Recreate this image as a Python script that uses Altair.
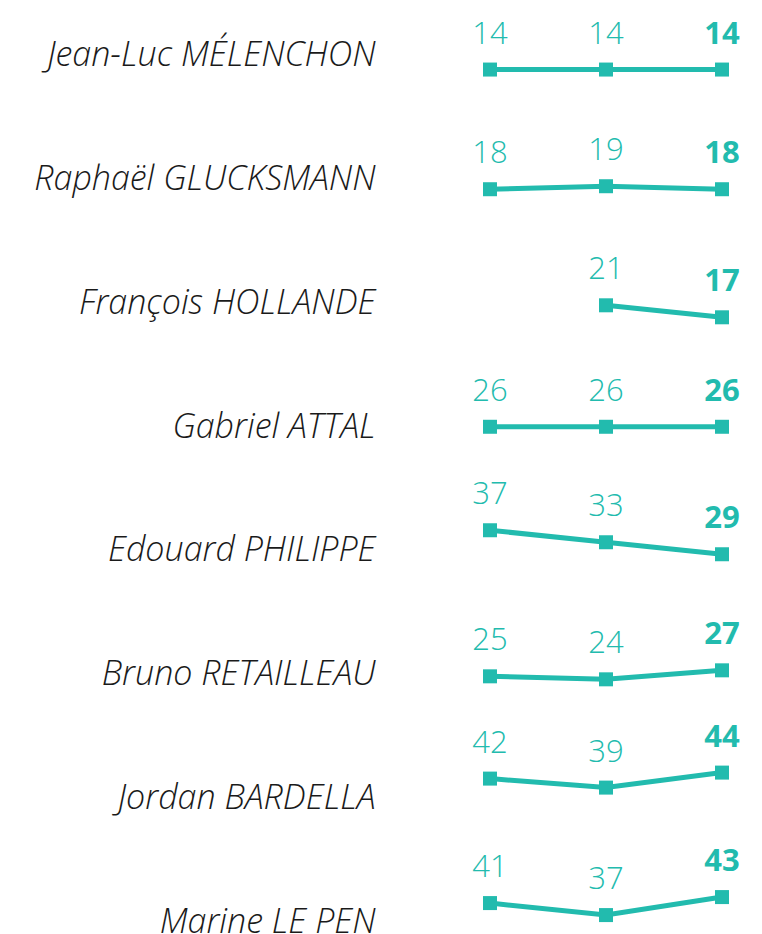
import altair as alt
import pandas as pd

candidates = [
    "Jean-Luc MÉLENCHON",
    "Raphaël GLUCKSMANN",
    "François HOLLANDE",
    "Gabriel ATTAL",
    "Edouard PHILIPPE",
    "Bruno RETAILLEAU",
    "Jordan BARDELLA",
    "Marine LE PEN",
]
waves = [1, 2, 3]
wave1 = [14, 18, None, 26, 37, 25, 42, 41]
wave2 = [14, 19, 21, 26, 33, 24, 39, 37]
wave3 = [14, 18, 17, 26, 29, 27, 44, 43]

rows = []
for i, c in enumerate(candidates):
    for w, series in zip(waves, [wave1, wave2, wave3]):
        v = series[i]
        if v is not None:
            rows.append({"candidate": c, "wave": w, "value": v})
df = pd.DataFrame(rows)

TEAL = "#22BBAE"

x = alt.X("wave:Q", scale=alt.Scale(domain=[0.138, 3.207]), axis=None)
y = alt.Y(
    "candidate:N",
    sort=candidates,
    scale=alt.Scale(range=[-14, 977], paddingInner=0, paddingOuter=0),
    axis=alt.Axis(
        title=None, domain=False, ticks=False, grid=False,
        labelFontSize=34, labelFont="Open Sans", labelFontStyle="italic",
        labelFontWeight=300, labelColor="#1a1a1a", labelPadding=15,
        labelLimit=0, labelAlign="right", labelBaseline="middle",
    ),
)
yoff = alt.YOffset("pos:Q", scale=alt.Scale(domain=[14, -17], range=[17.95, 110.95]))

base = alt.Chart(df).transform_joinaggregate(
    mean_v="mean(value)", groupby=["candidate"]
).transform_calculate(
    pos="0.4 * (datum.mean_v - 27) + (datum.value - datum.mean_v)"
).encode(x=x, y=y, yOffset=yoff)

line = base.mark_line(color=TEAL, strokeWidth=5).encode(
    detail="candidate:N", order="wave:Q"
)
pts = base.mark_square(color=TEAL, size=196, opacity=1)
txt = base.mark_text(
    color=TEAL, fontSize=31, font="Open Sans", fontWeight=300,
    dy=-35, baseline="middle"
).encode(text="value:Q").transform_filter("datum.wave < 3")
txt_b = base.mark_text(
    color=TEAL, fontSize=31, font="Open Sans", fontWeight="bold",
    dy=-35, baseline="middle"
).encode(text="value:Q").transform_filter("datum.wave == 3")

chart = alt.layer(line, pts, txt, txt_b).properties(
    width=356,
    height=926,
    autosize=alt.AutoSizeParams(type="none"),
    padding={"top": 0, "left": 382, "right": 8, "bottom": 0},
).configure_view(stroke=None)

chart.save("out.html", embed_options={"renderer": "svg", "actions": False})
